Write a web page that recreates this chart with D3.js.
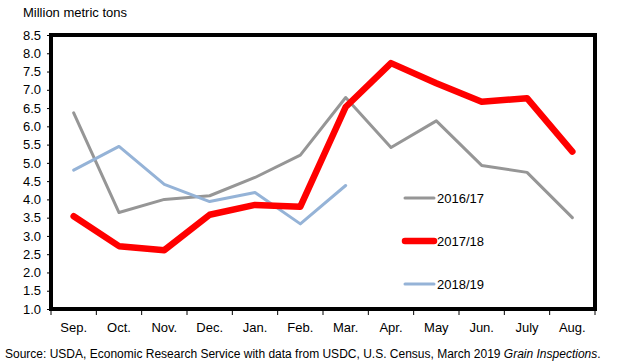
<!DOCTYPE html>
<html><head><meta charset="utf-8">
<script src="https://cdn.jsdelivr.net/npm/d3@7"></script>
<style>
body{margin:0;background:#fff;}
svg{display:block;font-family:"Liberation Sans",Arial,sans-serif;}
</style></head>
<body><svg id="c" width="618" height="364"></svg>
<script>
const months = ["Sep.","Oct.","Nov.","Dec.","Jan.","Feb.","Mar.","Apr.","May","Jun.","July","Aug."];
const s1617 = [6.37,3.64,4.0,4.1,4.6,5.21,6.79,5.42,6.15,4.93,4.74,3.5];
const s1718 = [3.54,2.72,2.61,3.58,3.85,3.8,6.53,7.73,7.18,6.67,6.77,5.31];
const s1819 = [4.8,5.45,4.41,3.94,4.19,3.33,4.38];
const seriesNames = ["2016/17","2017/18","2018/19"];
const yTicks = [1.0,1.5,2.0,2.5,3.0,3.5,4.0,4.5,5.0,5.5,6.0,6.5,7.0,7.5,8.0,8.5];

const svg = d3.select("#c");
const L=51, R=595, T=35, B=309;
const x = d3.scaleBand().domain(months).range([L,R]);
const y = d3.scaleLinear().domain([1,8.5]).range([B,T]);

svg.append("text").attr("x",23).attr("y",17).attr("font-size",13).attr("fill","#000").text("Million metric tons");

// y axis
const ya = svg.append("g").attr("transform",`translate(${L},0)`)
  .call(d3.axisLeft(y).tickValues(yTicks).tickFormat(d3.format(".1f")).tickSize(4).tickPadding(6));
ya.select(".domain").remove();
ya.selectAll("line").attr("stroke","#000");
ya.selectAll("text").attr("font-size",13).attr("fill","#000").attr("font-family","Liberation Sans, Arial, sans-serif");

// x axis ticks at band boundaries
const xa = svg.append("g").attr("transform",`translate(0,${B})`);
const bounds = months.map(m=>x(m)).concat([R]);
xa.selectAll("line").data(bounds).join("line")
  .attr("x1",d=>d).attr("x2",d=>d).attr("y1",0).attr("y2",6).attr("stroke","#000").attr("stroke-width",1);
xa.selectAll("text").data(months).join("text")
  .attr("x",d=>x(d)+x.bandwidth()/2).attr("y",23).attr("text-anchor","middle")
  .attr("font-size",13).attr("fill","#000").text(d=>d);

// plot border
svg.append("rect").attr("x",L).attr("y",T).attr("width",R-L).attr("height",B-T)
  .attr("fill","none").attr("stroke","#000").attr("stroke-width",4);

const cx = (d,i)=>x(months[i])+x.bandwidth()/2;
const line = d3.line().x(cx).y(d=>y(d));
const styles = [
  {data:s1617,color:"#969696",w:3},
  {data:s1718,color:"#ff0000",w:6.5},
  {data:s1819,color:"#95b3d7",w:3}
];
const drawOrder=[0,2,1];
drawOrder.forEach(k=>{
  const s=styles[k];
  svg.append("path").datum(s.data).attr("d",line).attr("fill","none")
    .attr("stroke",s.color).attr("stroke-width",s.w).attr("stroke-linejoin","round").attr("stroke-linecap","round");
});

// legend
const legY=[198,241,284];
seriesNames.forEach((n,i)=>{
  const s=styles[i];
  svg.append("line").attr("x1",405).attr("x2",434).attr("y1",legY[i]).attr("y2",legY[i])
    .attr("stroke",s.color).attr("stroke-width",s.w).attr("stroke-linecap","round");
  svg.append("text").attr("x",437).attr("y",legY[i]+5).attr("font-size",13).attr("fill","#000").text(n);
});

// source
const src = svg.append("text").attr("x",5).attr("y",358).attr("font-size",12).attr("fill","#000");
src.append("tspan").text("Source: USDA, Economic Research Service with data from USDC, U.S. Census, March 2019 ");
src.append("tspan").attr("font-style","italic").text("Grain Inspections");
src.append("tspan").text(".");
</script></body></html>
